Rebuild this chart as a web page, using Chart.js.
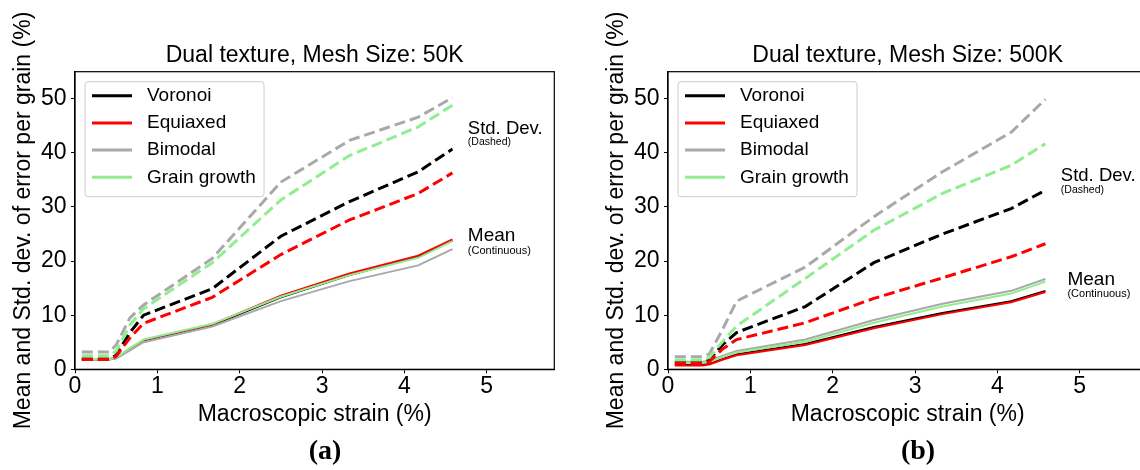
<!DOCTYPE html>
<html><head><meta charset="utf-8">
<script src="https://cdn.jsdelivr.net/npm/chart.js@4.4.1/dist/chart.umd.min.js"></script>
<style>
html,body{margin:0;padding:0;background:#fff;overflow:hidden;width:1140px;height:470px;}
.wrap{position:absolute;top:0;width:570px;height:470px;}
</style></head><body>
<div class="wrap" style="left:0"><canvas id="c1" width="570" height="470"></canvas></div>
<div class="wrap" style="left:593px"><canvas id="c2" width="570" height="470"></canvas></div>
<script>
// ---- data ----
const strain = [0.083, 0.417, 0.5, 0.667, 0.833, 1.667, 2.5, 3.333, 4.167, 4.583];
const categories = ['Voronoi', 'Equiaxed', 'Bimodal', 'Grain growth'];
const xTicks = [0, 1, 2, 3, 4, 5];
const yTicks = [0, 10, 20, 30, 40, 50];

// Mesh size 50K
const voronoiMean50K  = [1.9, 1.9, 2.1, 3.7, 5.3, 8.2, 13.3, 17.4, 20.8, 23.8];
const equiaxedMean50K = [1.8, 1.8, 2.1, 3.8, 5.4, 8.3, 13.6, 17.7, 21.0, 24.0];
const bimodalMean50K  = [1.8, 1.8, 2.0, 3.5, 5.0, 7.9, 12.6, 16.3, 19.2, 22.2];
const growthMean50K   = [1.9, 1.9, 2.2, 3.9, 5.5, 8.4, 13.4, 17.4, 20.6, 23.7];
const voronoiStd50K   = [1.9, 1.9, 2.6, 6.8, 10.0, 14.9, 24.6, 31.0, 36.5, 40.7];
const equiaxedStd50K  = [1.8, 1.8, 2.4, 5.8, 8.5, 13.3, 21.2, 27.6, 32.5, 36.3];
const bimodalStd50K   = [3.2, 3.2, 4.5, 9.5, 11.9, 20.5, 34.6, 42.3, 46.6, 50.2];
const growthStd50K    = [2.5, 2.5, 3.4, 8.2, 11.2, 19.7, 31.3, 39.5, 44.8, 48.8];

// Mesh size 500K
const voronoiMean500K  = [0.85, 0.85, 1.0, 1.9, 2.8, 4.7, 7.8, 10.4, 12.6, 14.5];
const equiaxedMean500K = [0.7, 0.7, 0.9, 1.8, 2.6, 4.5, 7.6, 10.2, 12.4, 14.3];
const bimodalMean500K  = [1.4, 1.4, 1.6, 2.5, 3.4, 5.5, 9.1, 12.1, 14.5, 16.7];
const growthMean500K   = [1.2, 1.2, 1.4, 2.3, 3.1, 5.1, 8.6, 11.6, 14.0, 16.2];
const voronoiStd500K   = [1.3, 1.3, 1.7, 4.6, 6.8, 11.6, 19.7, 25.0, 29.7, 33.1];
const equiaxedStd500K  = [1.1, 1.1, 1.4, 3.8, 5.5, 8.6, 13.1, 16.9, 20.8, 23.2];
const bimodalStd500K   = [2.3, 2.3, 2.8, 7.5, 12.6, 18.9, 28.2, 36.5, 43.8, 49.9];
const growthStd500K    = [1.7, 1.7, 2.2, 5.2, 8.0, 16.8, 25.7, 32.5, 37.7, 41.7];

// ---- styling ----
const colors = ['#000000', '#ff0000', '#a9a9a9', '#90ee90'];
const SANS = '"Liberation Sans", Arial, sans-serif';
Chart.defaults.font.family = SANS;
Chart.defaults.color = '#000';

function buildDatasets(means, stds) {
  const ds = [];
  categories.forEach((c, i) => ds.push({
    label: c + ' (mean)', data: strain.map((x, j) => ({x, y: means[i][j]})),
    borderColor: colors[i], backgroundColor: colors[i], borderWidth: 2,
    pointRadius: 0, tension: 0, fill: false, borderCapStyle: 'butt'
  }));
  categories.forEach((c, i) => ds.push({
    label: c + ' (std. dev.)', data: strain.map((x, j) => ({x, y: stds[i][j]})),
    borderColor: colors[i], backgroundColor: colors[i], borderWidth: 3, borderDash: [11, 5],
    pointRadius: 0, tension: 0, fill: false, borderCapStyle: 'butt'
  }));
  ds.forEach((d, k) => d.order = ds.length - k);
  return ds;
}

const decorPlugin = {
  id: 'decor',
  afterDatasetsDraw(chart, args, opts) {
    const {ctx, chartArea: a, scales: {x, y}} = chart;
    ctx.save();
    // frame
    ctx.strokeStyle = '#000'; ctx.lineWidth = 1.2;
    ctx.strokeRect(a.left, a.top, a.right - a.left, a.bottom - a.top);
    // legend
    const lx = a.left + 10, ly = a.top + 10, lw = 179, lh = 115;
    ctx.beginPath();
    if (ctx.roundRect) ctx.roundRect(lx, ly, lw, lh, 3); else ctx.rect(lx, ly, lw, lh);
    ctx.fillStyle = 'rgba(255,255,255,0.8)'; ctx.fill();
    ctx.strokeStyle = '#cccccc'; ctx.lineWidth = 1; ctx.stroke();
    ctx.font = '19px ' + SANS; ctx.textBaseline = 'middle'; ctx.textAlign = 'left';
    categories.forEach((c, i) => {
      const yy = ly + 14 + i * 27.2;
      ctx.beginPath(); ctx.strokeStyle = colors[i]; ctx.lineWidth = 3;
      ctx.moveTo(lx + 7, yy); ctx.lineTo(lx + 47, yy); ctx.stroke();
      ctx.fillStyle = '#000'; ctx.fillText(c, lx + 62, yy);
    });
    // annotations
    opts.notes.forEach(n => {
      ctx.font = n.size + 'px ' + SANS;
      ctx.fillStyle = '#000';
      ctx.fillText(n.text, x.getPixelForValue(n.x), y.getPixelForValue(n.y));
    });
    ctx.restore();
  },
  afterDraw(chart, args, opts) {
    const {ctx} = chart;
    ctx.save();
    ctx.font = 'bold 28px "Liberation Serif", "Times New Roman", serif';
    ctx.fillStyle = '#000'; ctx.textAlign = 'center'; ctx.textBaseline = 'middle';
    ctx.fillText(opts.panel, 325, 452);
    ctx.restore();
  }
};

function makeChart(id, title, means, stds, panel, notes) {
  return new Chart(document.getElementById(id), {
    type: 'line',
    data: {datasets: buildDatasets(means, stds)},
    plugins: [decorPlugin],
    options: {
      responsive: false, animation: false, devicePixelRatio: 1,
      layout: {padding: {left: 0, right: 15.7, top: 0, bottom: 0}},
      plugins: {
        legend: {display: false}, tooltip: {enabled: false},
        title: {display: true, text: title, color: '#000', fullSize: false,
                font: {size: 23, weight: 'normal', family: SANS, lineHeight: 1.2},
                padding: {top: 42, bottom: 2.1}},
        decor: {panel, notes}
      },
      scales: {
        x: {type: 'linear', min: 0, max: 5.82,
            afterFit: s => { s.height = 100.7; },
            afterBuildTicks: s => { s.ticks = xTicks.map(v => ({value: v})); },
            ticks: {font: {size: 23}, color: '#000', padding: 0, maxRotation: 0},
            grid: {drawOnChartArea: false, drawTicks: true, tickLength: 4, color: '#000'},
            border: {display: true, color: '#000', width: 1.2},
            title: {display: true, text: 'Macroscopic strain (%)', color: '#000',
                    font: {size: 23, lineHeight: 1.2}, padding: {top: 0, bottom: 41.2}}},
        y: {type: 'linear', min: 0, max: 55,
            afterFit: s => { s.width = 75; },
            afterBuildTicks: s => { s.ticks = yTicks.map(v => ({value: v})); },
            ticks: {font: {size: 23}, color: '#000', padding: 4.5},
            grid: {drawOnChartArea: false, drawTicks: true, tickLength: 4, color: '#000'},
            border: {display: true, color: '#000', width: 1.2},
            title: {display: true, text: 'Mean and Std. dev. of error per grain (%)', color: '#000',
                    font: {size: 23, lineHeight: 1.2}, padding: {top: 9.8, bottom: 0}}}
      }
    }
  });
}

makeChart('c1', 'Dual texture, Mesh Size: 50K',
  [voronoiMean50K, equiaxedMean50K, bimodalMean50K, growthMean50K],
  [voronoiStd50K, equiaxedStd50K, bimodalStd50K, growthStd50K], '(a)',
  [{text: 'Std. Dev.', x: 4.77, y: 44.5, size: 18.5}, {text: '(Dashed)', x: 4.77, y: 41.9, size: 10.5},
   {text: 'Mean', x: 4.77, y: 24.6, size: 19}, {text: '(Continuous)', x: 4.77, y: 21.9, size: 11}]);

makeChart('c2', 'Dual texture, Mesh Size: 500K',
  [voronoiMean500K, equiaxedMean500K, bimodalMean500K, growthMean500K],
  [voronoiStd500K, equiaxedStd500K, bimodalStd500K, growthStd500K], '(b)',
  [{text: 'Std. Dev.', x: 4.77, y: 35.8, size: 18.5}, {text: '(Dashed)', x: 4.77, y: 33.1, size: 10.5},
   {text: 'Mean', x: 4.85, y: 16.5, size: 19}, {text: '(Continuous)', x: 4.85, y: 14.0, size: 11}]);
</script>
</body></html>
